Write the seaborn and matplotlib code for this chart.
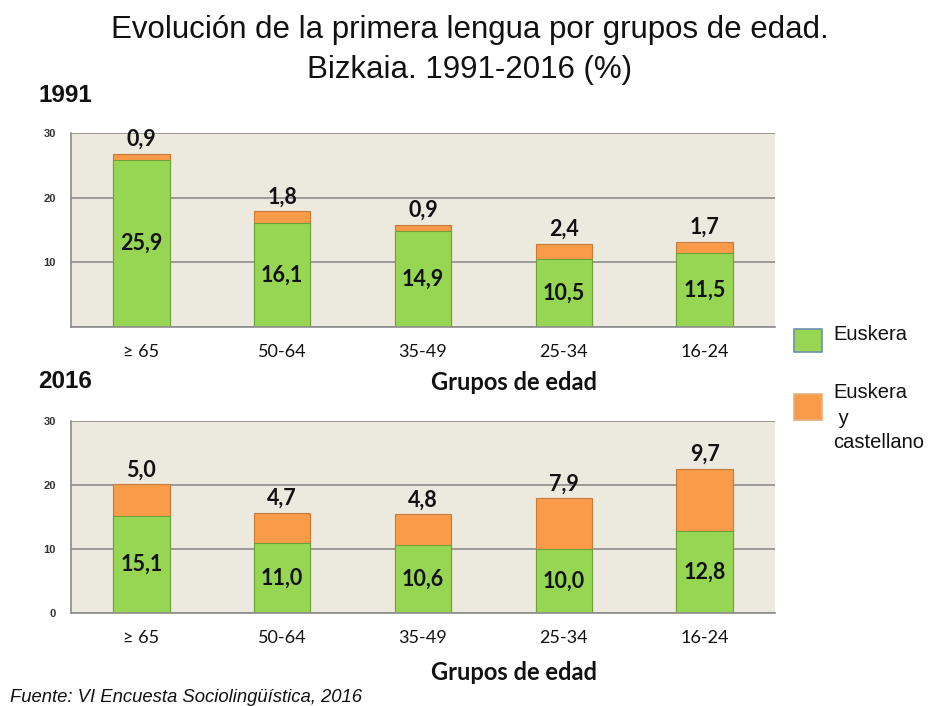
import pandas as pd
import matplotlib.pyplot as plt
import matplotlib.patches as mpatches
import seaborn as sns

# =========================================
# Data
# =========================================
grupos = ["≥ 65", "50-64", "35-49", "25-34", "16-24"]

euskera_1991 = [25.9, 16.1, 14.9, 10.5, 11.5]
ambas_1991 = [0.9, 1.8, 0.9, 2.4, 1.7]

euskera_2016 = [15.1, 11.0, 10.6, 10.0, 12.8]
ambas_2016 = [5.0, 4.7, 4.8, 7.9, 9.7]

verde = "#97D652"
naranja = "#F99B48"
fondo = "#ECE9DF"

sns.set_style("white")
plt.rcParams["font.family"] = ["Liberation Sans", "DejaVu Sans"]
plt.rcParams["text.color"] = "#111111"

fig = plt.figure(figsize=(9.31, 7.06), dpi=100)

# axes positions in figure coords (pixels / size)
W, H = 931, 706
ax1 = fig.add_axes([71 / W, 1 - 327 / H, 704 / W, 194 / H])
ax2 = fig.add_axes([71 / W, 1 - 613 / H, 704 / W, 192 / H])


def draw_panel(ax, eus, amb, show_zero):
    df = pd.DataFrame({"grupo": grupos, "euskera": eus, "ambas": amb})
    df["total"] = df["euskera"] + df["ambas"]
    ax.set_facecolor(fondo)
    ax.set_axisbelow(True)
    sns.barplot(data=df, x="grupo", y="total", color=naranja, width=0.4,
                edgecolor="#C87A3A", linewidth=0.8, ax=ax, saturation=1)
    sns.barplot(data=df, x="grupo", y="euskera", color=verde, width=0.4,
                edgecolor="#6FA03A", linewidth=0.8, ax=ax, saturation=1)
    ax.set_ylim(0, 30)
    ax.set_xlim(-0.5, len(grupos) - 0.5)
    ax.set_yticks([0, 10, 20, 30])
    ax.set_yticklabels(["0" if show_zero else "", "10", "20", "30"],
                       fontsize=8, fontweight="bold", color="#333333")
    ax.yaxis.grid(True, color="#8C8C8C", linewidth=1.2)
    ax.set_xticks(range(len(grupos)))
    ax.set_xticklabels(grupos, fontsize=13, color="#111111", family="Lato")
    ax.set_xticks([i - 0.5 for i in range(len(grupos) + 1)], minor=True)
    ax.tick_params(axis="x", which="major", length=0, pad=12)
    ax.tick_params(axis="x", which="minor", length=6, color="#8C8C8C", width=1.2)
    ax.tick_params(axis="y", length=5, color="#8C8C8C", width=1.2, pad=6)
    ax.set_xlabel("")
    ax.set_ylabel("")
    for s in ["top", "right"]:
        ax.spines[s].set_visible(False)
    for s in ["left", "bottom"]:
        ax.spines[s].set_color("#8C8C8C")
        ax.spines[s].set_linewidth(1.2)
    for i, (e, a) in enumerate(zip(eus, amb)):
        ax.text(i, e / 2, f"{e:.1f}".replace(".", ","), ha="center", va="center",
                fontsize=15.5, fontweight="bold", color="#111111", family="Lato")
        ax.text(i, e + a + 0.6, f"{a:.1f}".replace(".", ","), ha="center",
                va="bottom", fontsize=15.5, fontweight="bold", color="#111111",
                family="Lato")


draw_panel(ax1, euskera_1991, ambas_1991, False)
draw_panel(ax2, euskera_2016, ambas_2016, True)

# Titles and labels
fig.text(470 / W, 1 - 30 / H, "Evolución de la primera lengua por grupos de edad.",
         ha="center", va="center", fontsize=22.5)
fig.text(470 / W, 1 - 70 / H, "Bizkaia. 1991-2016 (%)",
         ha="center", va="center", fontsize=22.5)
fig.text(38 / W, 1 - 95 / H, "1991", fontsize=17.5, fontweight="bold", va="center")
fig.text(38 / W, 1 - 382 / H, "2016", fontsize=17.5, fontweight="bold", va="center")
fig.text(514 / W, 1 - 383 / H, "Grupos de edad", fontsize=17, fontweight="bold",
         ha="center", va="center", family="Lato")
fig.text(514 / W, 1 - 672 / H, "Grupos de edad", fontsize=17, fontweight="bold",
         ha="center", va="center", family="Lato")
fig.text(10 / W, 1 - 697 / H, "Fuente: VI Encuesta Sociolingüística, 2016",
         fontsize=13.3, style="italic", ha="left", va="center")

# Legend
fig.patches.append(mpatches.FancyBboxPatch((794 / W, 1 - 352 / H), 28 / W, 23 / H,
                                           boxstyle="square,pad=0", transform=fig.transFigure,
                                           facecolor=verde, edgecolor="#6F8FB0", linewidth=1.2))
fig.patches.append(mpatches.FancyBboxPatch((794 / W, 1 - 420 / H), 28 / W, 26 / H,
                                           boxstyle="square,pad=0", transform=fig.transFigure,
                                           facecolor=naranja, edgecolor="#E8B080", linewidth=1.2))
fig.text(833 / W, 1 - 335 / H, "Euskera", fontsize=14.5, va="center")
fig.text(833 / W, 1 - 392 / H, "Euskera", fontsize=14.5, va="center")
fig.text(833 / W, 1 - 418 / H, " y", fontsize=14.5, va="center")
fig.text(833 / W, 1 - 443 / H, "castellano", fontsize=14.5, va="center")

fig.savefig("out.png", dpi=100, facecolor="white")
